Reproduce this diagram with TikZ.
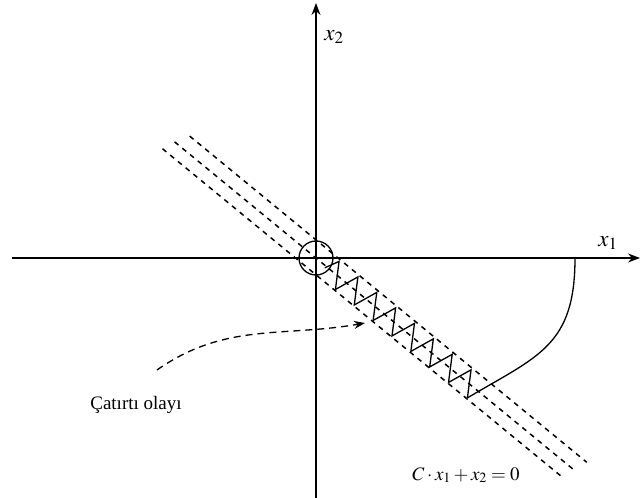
\documentclass[tikz,border=0pt]{standalone}
\usepackage{mathptmx}
\usepackage{fontspec}
\setmainfont{Liberation Serif}
\usetikzlibrary{arrows.meta}
\tikzset{
  eksen/.style={-{Stealth[length=12pt,width=9pt]}, line width=1.4pt},
  kesik/.style={line width=1.5pt, dash pattern=on 5pt off 5pt},
  yazi/.style={font=\fontsize{19}{22}\selectfont},
  etiket/.style={font=\fontsize{23}{26}\selectfont}
}
\begin{document}
\begin{tikzpicture}[x=1pt, y=1pt]
		\useasboundingbox (-316,-240) rectangle (324,258);
		% Eksenler
		\coordinate (xBas) at (-304,0);
		\coordinate (xSon) at (324,0);
		\coordinate (yBas) at (0,-240);
		\coordinate (ySon) at (0,255);
		\draw[eksen] (xBas) -- (xSon);
		\draw[eksen] (yBas) -- (ySon);
		\node[etiket] (xBir) at (292,15) {$x_1$};
		\node[etiket] (xIki) at (18,221) {$x_2$};
		
		% Orijindeki daire
		\node[draw, circle, line width=1.3pt, minimum size=34pt, inner sep=0pt] (O) at (0,0) {};
		
		% Kayma yüzeyi ve zikzak
		\begin{scope}[rotate=-39.4]
		\draw[kesik] (-175,14) -- (339,14);
		\draw[kesik] (-183,0) -- (337,0);
		\draw[kesik] (-188,-13) -- (330,-13);
		\draw[line width=1.3pt, line join=miter] (13,-2)
			\foreach \k in {0,...,7} { -- ({20+24.4*\k},12) -- ({35+24.4*\k},-12) }
			coordinate (zSon);
		\end{scope}
		
		% Yörünge
		\coordinate (aUst) at (259,0);
		\draw[line width=1.3pt] (zSon) .. controls (222,-98) and (259,-88) .. (aUst);
		
		% Açıklama
		\node[yazi, anchor=base] (cat) at (-180,-151) {Çatırtı olayı};
		\coordinate (oBas) at (-159,-112);
		\coordinate (oSon) at (49,-65);
		\draw[-{Stealth[length=11pt,width=8pt]}, line width=1.3pt, dash pattern=on 7pt off 5pt] (oBas) to[out=35, in=190] (oSon);
		\node[yazi, anchor=base] (denk) at (150,-222) {$C\cdot x_1+x_2=0$};
		\end{tikzpicture}
\end{document}
